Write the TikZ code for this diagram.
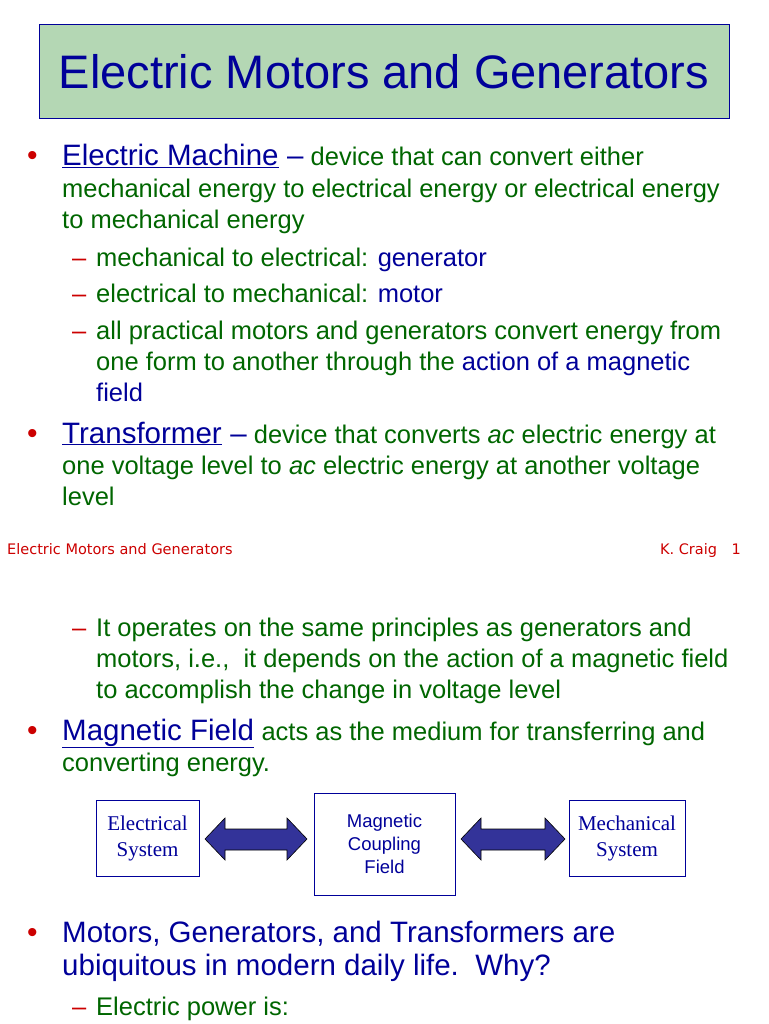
\documentclass[tikz,border=0pt]{standalone}
\usepackage{fontspec}
\setmainfont{Liberation Sans}
\newfontfamily\serifa{Liberation Serif}
\newfontfamily\foot{DejaVu Sans}
\definecolor{tgreen}{HTML}{006600}
\definecolor{tblue}{HTML}{000099}
\definecolor{tred}{HTML}{CC0000}
\definecolor{tbox}{HTML}{B4D7B4}
\definecolor{arr}{HTML}{333399}
\tikzset{
 t/.style={anchor=base west,inner sep=0,text=tgreen,font=\fontsize{25.5}{25.5}\selectfont},
 bul/.style={anchor=base west,inner sep=0,text=tred,font=\fontsize{25.5}{25.5}\selectfont},
 big/.style={anchor=base west,inner sep=0,text=tblue,font=\fontsize{29.5}{29.5}\selectfont},
 ft/.style={anchor=base west,inner sep=0,text=tred,font=\foot\fontsize{14.5}{14.5}\selectfont},
 sbox/.style={draw=tblue,line width=1pt,text=tblue,align=center},
 darr/.style={fill=arr,draw=black,line width=0.6pt}
}
\begin{document}
\begin{tikzpicture}[x=1pt,y=-1pt]
\useasboundingbox (0,0) rectangle (768,1024);
\node[draw=tblue,fill=tbox,line width=1pt,minimum width=690pt,minimum height=94pt,text=tblue,font=\fontsize{47}{47}\selectfont] (title) at (384,72) {Electric Motors and Generators};
% slide 1
\node[bul] (b1) at (27,166) {\fontsize{30}{30}\selectfont•};
\node[big] (em) at (62,166) {\underline{Electric Machine}};
\node[t] (l1) at (em.base east) {\textcolor{tblue}{\fontsize{29.5}{29.5}\selectfont\ –} device that can convert either};
\node[t] (l2) at (62,198) {mechanical energy to electrical energy or electrical energy};
\node[t] (l3) at (62,229) {to mechanical energy};
\node[bul] (d1) at (72,266) {–};
\node[t] (l4) at (96,266) {mechanical to electrical: \textcolor{tblue}{generator}};
\node[bul] (d2) at (72,302) {–};
\node[t] (l5) at (96,302) {electrical to mechanical: \textcolor{tblue}{motor}};
\node[bul] (d3) at (72,339) {–};
\node[t] (l6) at (96,339) {all practical motors and generators convert energy from};
\node[t] (l7) at (96,370) {one form to another through the \textcolor{tblue}{action of a magnetic}};
\node[t] (l8) at (96,401) {\textcolor{tblue}{field}};
\node[bul] (b2) at (27,443) {\fontsize{30}{30}\selectfont•};
\node[big] (tr) at (62,443) {\underline{Transformer}};
\node[t] (l9) at (tr.base east) {\textcolor{tblue}{\fontsize{29.5}{29.5}\selectfont\ –} device that converts \textit{ac} electric energy at};
\node[t] (l10) at (62,474) {one voltage level to \textit{ac} electric energy at another voltage};
\node[t] (l11) at (62,505) {level};
\node[ft] (f1) at (7,554) {Electric Motors and Generators};
\node[ft,anchor=base east] (f2) at (741,554) {K. Craig\quad 1};
% slide 2
\node[bul] (d4) at (72,636) {–};
\node[t] (l12) at (96,636) {It operates on the same principles as generators and};
\node[t] (l13) at (96,667) {motors, i.e.,\ \ it depends on the action of a magnetic field};
\node[t] (l14) at (96,698) {to accomplish the change in voltage level};
\node[bul] (b3) at (27,740) {\fontsize{30}{30}\selectfont•};
\node[big] (mf) at (62,740) {\underline{Magnetic Field}};
\node[t] (l15) at (mf.base east) {\ acts as the medium for transferring and};
\node[t] (l16) at (62,771) {converting energy.};
\node[sbox,minimum width=103pt,minimum height=76pt,font=\serifa\fontsize{21}{26}\selectfont] (es) at (147.5,838) {Electrical\\System};
\node[sbox,minimum width=141pt,minimum height=102pt,font=\fontsize{18.5}{23}\selectfont] (mc) at (384.5,844) {Magnetic\\Coupling\\Field};
\node[sbox,minimum width=116pt,minimum height=76pt,font=\serifa\fontsize{21}{26}\selectfont] (ms) at (627,838) {Mechanical\\System};
\draw[darr] (205,839) -- (225,818) -- (225,829) -- (287,829) -- (287,818) -- (307,839) -- (287,860) -- (287,850) -- (225,850) -- (225,860) -- cycle;
\draw[darr] (461,839) -- (481,818) -- (481,829) -- (545,829) -- (545,818) -- (565,839) -- (545,860) -- (545,850) -- (481,850) -- (481,860) -- cycle;
\node[bul] (b4) at (27,942) {\fontsize{30}{30}\selectfont•};
\node[big] (l17) at (62,942) {Motors, Generators, and Transformers are};
\node[big] (l18) at (62,975) {ubiquitous in modern daily life.\ \ Why?};
\node[bul] (d5) at (72,1015) {–};
\node[t] (l19) at (96,1015) {Electric power is:};
\end{tikzpicture}
\end{document}
